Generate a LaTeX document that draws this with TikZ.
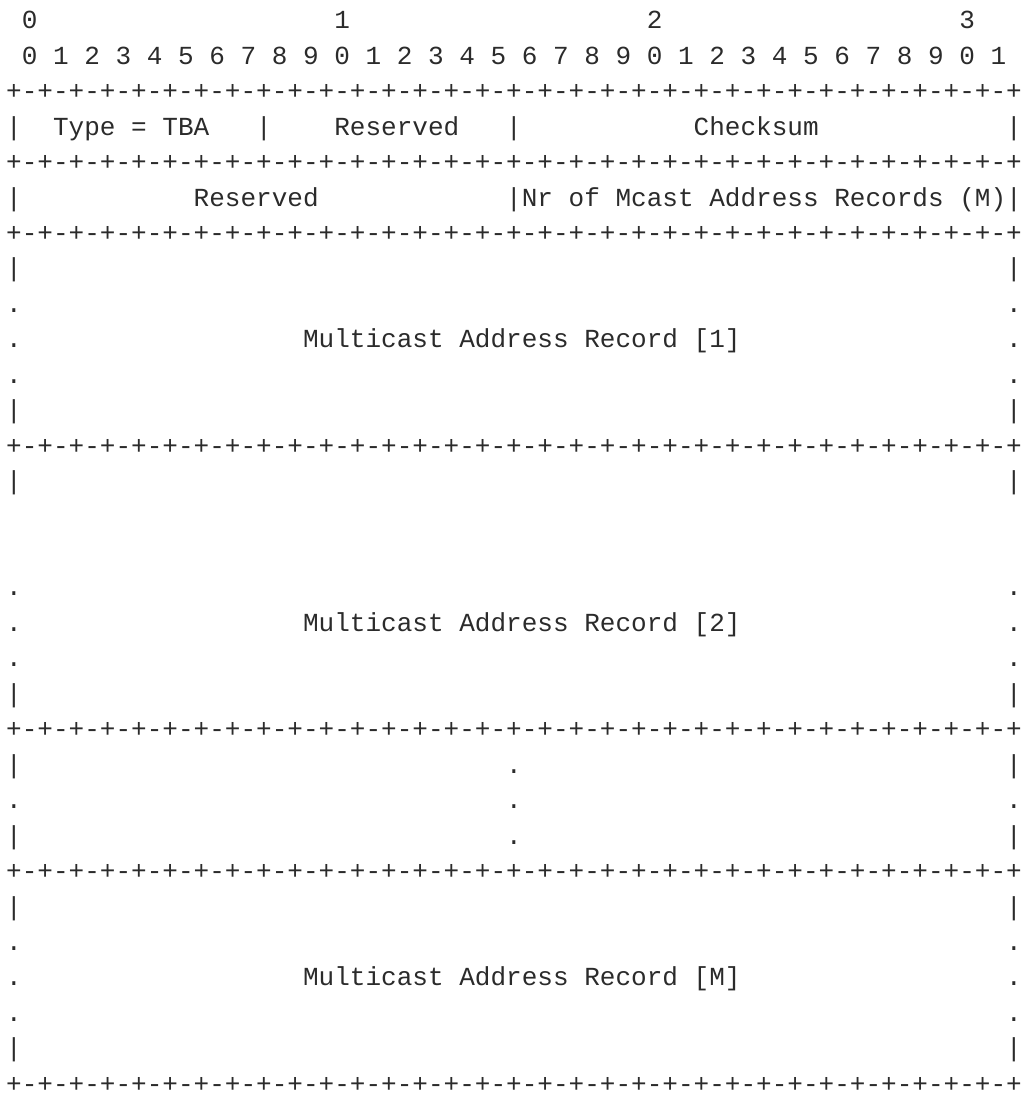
\documentclass[tikz,border=0pt]{standalone}
\usepackage{fontspec}
\usepackage{xcolor}
\usepackage{tikz}
\usetikzlibrary{positioning}
\newfontfamily\asciifont{Liberation Mono}
\definecolor{ink}{HTML}{2B2B2B}
\newcommand{\bitrule}{+-+-+-+-+-+-+-+-+-+-+-+-+-+-+-+-+-+-+-+-+-+-+-+-+-+-+-+-+-+-+-+-+}
\frenchspacing
\begin{document}
\begin{tikzpicture}[x=11.71875pt, y=26.5875pt,
                    ascii/.style={anchor=base west, inner sep=0pt, outer sep=0pt, text=ink,
                                  font=\asciifont\fontsize{19.53pt}{26.6pt}\selectfont}]
    \useasboundingbox (-0.397,0.812) rectangle (64.95,-30.02);

    % Bit numbering
    \node[ascii] (oct0) at (1,0) {0}; \node[ascii] (oct1) at (21,0) {1};
    \node[ascii] (oct2) at (41,0) {2}; \node[ascii] (oct3) at (61,0) {3};
    \node[ascii] (bits) at (1,-1) {0 1 2 3 4 5 6 7 8 9 0 1 2 3 4 5 6 7 8 9 0 1 2 3 4 5 6 7 8 9 0 1};

    % Header words
    \node[ascii] (rule1) at (0,-2) {\bitrule};
    \node[ascii] (typeL) at (0,-3) {|}; \node[ascii] (type) at (3,-3) {Type = TBA};
    \node[ascii] (typeR) at (16,-3) {|}; \node[ascii] (resA) at (21,-3) {Reserved};
    \node[ascii] (resAR) at (32,-3) {|}; \node[ascii] (csum) at (44,-3) {Checksum};
    \node[ascii] (csumR) at (64,-3) {|};
    \node[ascii] (rule2) at (0,-4) {\bitrule};
    \node[ascii] (resBL) at (0,-5) {|}; \node[ascii] (resB) at (12,-5) {Reserved};
    \node[ascii] (resBR) at (32,-5) {|}; \node[ascii] (nrec) at (33,-5) {Nr of Mcast Address Records (M)};
    \node[ascii] (nrecR) at (64,-5) {|};
    \node[ascii] (rule3) at (0,-6) {\bitrule};

    % Record 1
    \node[ascii] (r1aL) at (0,-7) {|};  \node[ascii] (r1aR) at (64,-7) {|};
    \node[ascii] (r1bL) at (0,-8) {.};  \node[ascii] (r1bR) at (64,-8) {.};
    \node[ascii] (r1cL) at (0,-9) {.};  \node[ascii] (rec1) at (19,-9) {Multicast Address Record [1]};
    \node[ascii] (r1cR) at (64,-9) {.};
    \node[ascii] (r1dL) at (0,-10) {.}; \node[ascii] (r1dR) at (64,-10) {.};
    \node[ascii] (r1eL) at (0,-11) {|}; \node[ascii] (r1eR) at (64,-11) {|};
    \node[ascii] (rule4) at (0,-12) {\bitrule};

    % Record 2
    \node[ascii] (r2aL) at (0,-13) {|}; \node[ascii] (r2aR) at (64,-13) {|};
    \node[ascii] (r2bL) at (0,-16) {.}; \node[ascii] (r2bR) at (64,-16) {.};
    \node[ascii] (r2cL) at (0,-17) {.}; \node[ascii] (rec2) at (19,-17) {Multicast Address Record [2]};
    \node[ascii] (r2cR) at (64,-17) {.};
    \node[ascii] (r2dL) at (0,-18) {.}; \node[ascii] (r2dR) at (64,-18) {.};
    \node[ascii] (r2eL) at (0,-19) {|}; \node[ascii] (r2eR) at (64,-19) {|};
    \node[ascii] (rule5) at (0,-20) {\bitrule};

    % Elided records
    \node[ascii] (gapaL) at (0,-21) {|}; \node[ascii] (gapaM) at (32,-21) {.}; \node[ascii] (gapaR) at (64,-21) {|};
    \node[ascii] (gapbL) at (0,-22) {.}; \node[ascii] (gapbM) at (32,-22) {.}; \node[ascii] (gapbR) at (64,-22) {.};
    \node[ascii] (gapcL) at (0,-23) {|}; \node[ascii] (gapcM) at (32,-23) {.}; \node[ascii] (gapcR) at (64,-23) {|};
    \node[ascii] (rule6) at (0,-24) {\bitrule};

    % Record M
    \node[ascii] (rMaL) at (0,-25) {|}; \node[ascii] (rMaR) at (64,-25) {|};
    \node[ascii] (rMbL) at (0,-26) {.}; \node[ascii] (rMbR) at (64,-26) {.};
    \node[ascii] (rMcL) at (0,-27) {.}; \node[ascii] (recM) at (19,-27) {Multicast Address Record [M]};
    \node[ascii] (rMcR) at (64,-27) {.};
    \node[ascii] (rMdL) at (0,-28) {.}; \node[ascii] (rMdR) at (64,-28) {.};
    \node[ascii] (rMeL) at (0,-29) {|}; \node[ascii] (rMeR) at (64,-29) {|};
    \node[ascii] (rule7) at (0,-30) {\bitrule};
\end{tikzpicture}
\end{document}
